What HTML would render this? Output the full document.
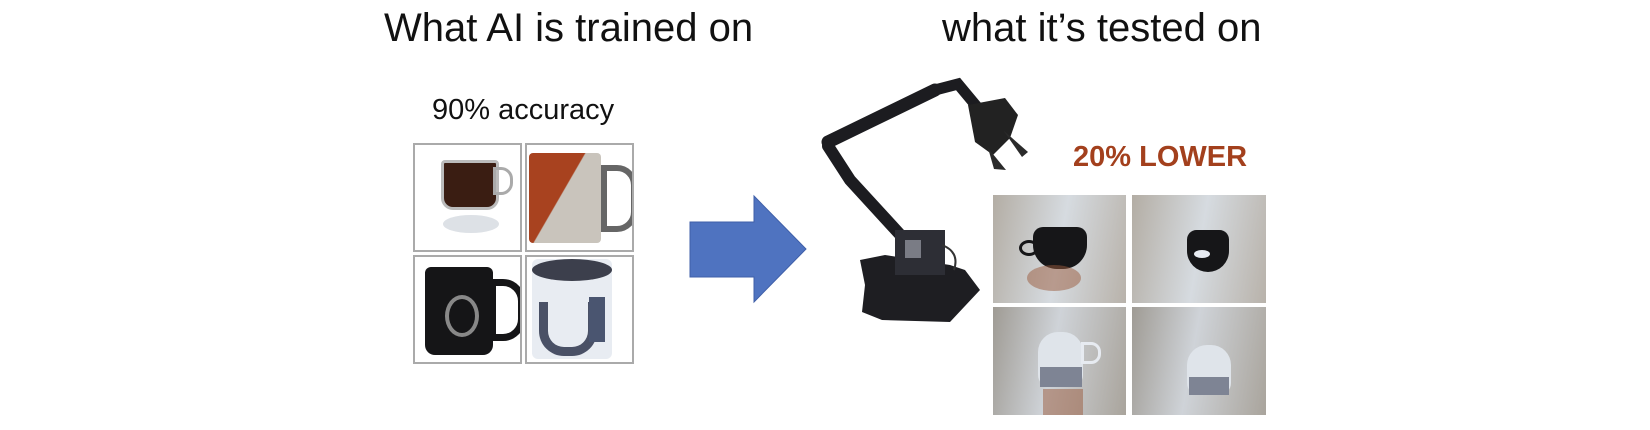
<!DOCTYPE html>
<html><head><style>
body{margin:0;width:1650px;height:430px;background:#fff;position:relative;overflow:hidden;font-family:"Liberation Sans",sans-serif}
.t{position:absolute;white-space:nowrap;color:#111}
.c{position:absolute;border:2px solid #aaa;box-sizing:border-box;background:#fff;overflow:hidden}
.p{position:absolute;box-sizing:border-box;overflow:hidden;background:linear-gradient(100deg,#b3ada4,#d6dbe0 50%,#b8b2aa)}
</style></head><body>
<div class="t" style="left:384px;top:6px;font-size:40px">What AI is trained on</div>
<div class="t" style="left:942px;top:6px;font-size:40px">what it’s tested on</div>
<div class="t" style="left:432px;top:94px;font-size:29px">90% accuracy</div>
<div class="t" style="left:1073px;top:141px;font-size:29px;font-weight:bold;color:#a3401d">20% LOWER</div>

<!-- left grid -->
<div class="c" style="left:413px;top:143px;width:109px;height:109px">
 <div style="position:absolute;left:26px;top:15px;width:52px;height:44px;background:#3a1d12;border:3px solid #bbb;border-radius:4px 4px 12px 12px"></div>
 <div style="position:absolute;left:78px;top:22px;width:14px;height:22px;border:3px solid #aaa;border-radius:0 12px 12px 0"></div>
 <div style="position:absolute;left:28px;top:70px;width:56px;height:18px;background:#dde1e6;border-radius:50%"></div>
</div>
<div class="c" style="left:525px;top:143px;width:109px;height:109px">
 <div style="position:absolute;left:2px;top:8px;width:72px;height:90px;background:linear-gradient(120deg,#a8421f 45%,#c9c4bc 46%);border-radius:4px"></div>
 <div style="position:absolute;left:74px;top:20px;width:24px;height:55px;border:6px solid #666;border-radius:0 20px 20px 0"></div>
</div>
<div class="c" style="left:413px;top:255px;width:109px;height:109px">
 <div style="position:absolute;left:10px;top:10px;width:68px;height:88px;background:#151517;border-radius:6px 6px 10px 10px"></div>
 <div style="position:absolute;left:74px;top:22px;width:22px;height:48px;border:7px solid #151517;border-radius:0 22px 22px 0"></div>
 <div style="position:absolute;left:30px;top:38px;width:26px;height:34px;border:4px solid #888;border-radius:50%"></div>
</div>
<div class="c" style="left:525px;top:255px;width:109px;height:109px">
 <div style="position:absolute;left:5px;top:2px;width:80px;height:100px;background:#e8ecf2;border-radius:6px"></div>
 <div style="position:absolute;left:5px;top:2px;width:80px;height:22px;background:#3c3f4c;border-radius:50%"></div>
 <div style="position:absolute;left:12px;top:45px;width:40px;height:45px;border:9px solid #4a5166;border-top:none;border-radius:0 0 25px 25px"></div>
 <div style="position:absolute;left:62px;top:40px;width:16px;height:45px;background:#4a5570"></div>
</div>

<!-- arrow -->
<svg style="position:absolute;left:688px;top:194px" width="122" height="112"><polygon points="2,28 66,28 66,2 118,55 66,108 66,83 2,83" fill="#4f73c0" stroke="#3f5fa8" stroke-width="1"/></svg>

<!-- robot -->
<svg style="position:absolute;left:810px;top:70px" width="240" height="260">
 <g stroke="#1c1c20" stroke-linecap="round" fill="none">
  <path d="M18,72 L125,20" stroke-width="13"/>
  <path d="M125,20 L148,14 L168,38" stroke-width="11"/>
  <path d="M18,76 L40,110 L95,170" stroke-width="12"/>
 </g>
 <path d="M158,35 L195,28 L208,45 L200,68 L183,85 L165,72Z" fill="#222"/>
 <path d="M193,60 L218,82 L212,87 Z" fill="#2a2a2a"/>
 <path d="M178,78 L196,100 L184,99 Z" fill="#2a2a2a"/>
 <path d="M50,190 L75,185 L140,195 L155,200 L170,220 L140,252 L72,250 L52,242 L55,215Z" fill="#1e1e22"/>
 <rect x="85" y="160" width="50" height="45" fill="#2d2e35"/>
 <rect x="95" y="170" width="16" height="18" fill="#7a7c85"/>
 <path d="M132,175 Q150,182 144,200" stroke="#333" stroke-width="2" fill="none"/>
</svg>

<!-- right grid -->
<div class="p" style="left:993px;top:195px;width:133px;height:108px">
 <div style="position:absolute;left:40px;top:32px;width:54px;height:42px;background:#161618;border-radius:10px 10px 24px 24px"></div>
 <div style="position:absolute;left:26px;top:45px;width:14px;height:10px;border:3px solid #161618;border-radius:50%"></div>
 <div style="position:absolute;left:34px;top:70px;width:54px;height:26px;background:#9a5a3c;opacity:.5;border-radius:50%"></div>
</div>
<div class="p" style="left:1132px;top:195px;width:134px;height:108px">
 <div style="position:absolute;left:55px;top:35px;width:42px;height:42px;background:#161618;border-radius:10px 10px 22px 22px"></div>
 <div style="position:absolute;left:62px;top:55px;width:16px;height:8px;background:#e7ebf1;border-radius:50%"></div>
</div>
<div class="p" style="left:993px;top:307px;width:133px;height:108px;background:linear-gradient(100deg,#9f9b94,#cfd3d8 45%,#a9a49c)">
 <div style="position:absolute;left:45px;top:25px;width:45px;height:55px;background:#dfe4ea;border-radius:20px 20px 12px 12px"></div>
 <div style="position:absolute;left:47px;top:60px;width:42px;height:20px;background:#7e8494"></div>
 <div style="position:absolute;left:88px;top:35px;width:14px;height:16px;border:3px solid #e7ebf1;border-radius:0 10px 10px 0"></div>
 <div style="position:absolute;left:50px;top:82px;width:40px;height:26px;background:#9a5a3c;opacity:.5"></div>
</div>
<div class="p" style="left:1132px;top:307px;width:134px;height:108px;background:linear-gradient(100deg,#9f9b94,#cfd3d8 45%,#a9a49c)">
 <div style="position:absolute;left:55px;top:38px;width:44px;height:50px;background:#dfe4ea;border-radius:20px 20px 12px 12px"></div>
 <div style="position:absolute;left:57px;top:70px;width:40px;height:18px;background:#7e8494"></div>
</div>
</body></html>
